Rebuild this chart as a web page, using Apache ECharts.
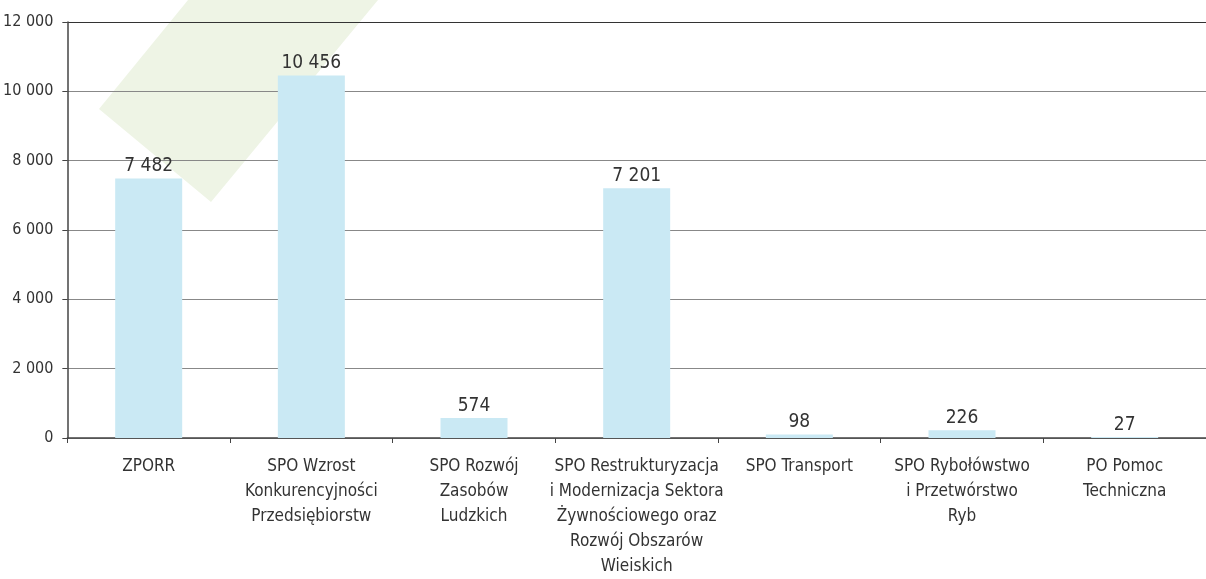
<!DOCTYPE html>
<html>
<head>
<meta charset="utf-8">
<script src="https://cdn.jsdelivr.net/npm/echarts@6/dist/echarts.min.js"></script>
<style>
  html, body { margin: 0; padding: 0; background: #fff; }
  #chart { width: 1206px; height: 579px; }
</style>
</head>
<body>
<div id="chart"></div>
<script>
let categories = [
  "ZPORR",
  "SPO Wzrost\nKonkurencyjności\nPrzedsiębiorstw",
  "SPO Rozwój\nZasobów\nLudzkich",
  "SPO Restrukturyzacja\ni Modernizacja Sektora\nŻywnościowego oraz\nRozwój Obszarów\nWieiskich",
  "SPO Transport",
  "SPO Rybołówstwo\ni Przetwórstwo\nRyb",
  "PO Pomoc\nTechniczna"
];
let values = [7482, 10456, 574, 7201, 98, 226, 27];
let yTicks = { min: 0, max: 12000, step: 2000 };

let font = '"Liberation Sans Narrow", "Arial Narrow", "DejaVu Sans Condensed", sans-serif';

function fmt(v) {
  return String(v).replace(/\B(?=(\d{3})+(?!\d))/g, " ");
}

let chart = echarts.init(document.getElementById("chart"));
chart.setOption({
  animation: false,
  textStyle: { fontFamily: font },
  graphic: [
    {
      type: "polygon",
      z: -10,
      silent: true,
      shape: { points: [[99, 109], [211, 202], [378, 0], [188, 0]] },
      style: { fill: "#eef4e5" }
    }
  ],
  grid: { left: 67, right: 0, top: 22, bottom: 136 },
  xAxis: {
    type: "category",
    data: categories,
    axisLine: { lineStyle: { color: "#444", width: 1.5 } },
    axisTick: { show: true, length: 5, lineStyle: { color: "#444" } },
    axisLabel: {
      interval: 0,
      margin: 16,
      fontSize: 17,
      lineHeight: 25,
      color: "#333",
      fontFamily: font
    }
  },
  yAxis: {
    type: "value",
    min: yTicks.min,
    max: yTicks.max,
    interval: yTicks.step,
    axisLine: { show: true, lineStyle: { color: "#444", width: 1.5 } },
    axisTick: { show: true, length: 5, lineStyle: { color: "#444" } },
    axisLabel: {
      margin: 14,
      fontSize: 16,
      color: "#333",
      fontFamily: font,
      formatter: fmt
    },
    splitLine: {
      lineStyle: {
        color: ["#888", "#888", "#888", "#888", "#888", "#888", "#333"],
        width: 1.2
      }
    }
  },
  series: [
    {
      type: "bar",
      data: values,
      barWidth: 67,
      itemStyle: { color: "#cae9f4" },
      label: {
        show: true,
        position: "top",
        distance: 3,
        fontSize: 19,
        color: "#333",
        fontFamily: font,
        formatter: p => fmt(p.value)
      }
    }
  ]
});
</script>
</body>
</html>
